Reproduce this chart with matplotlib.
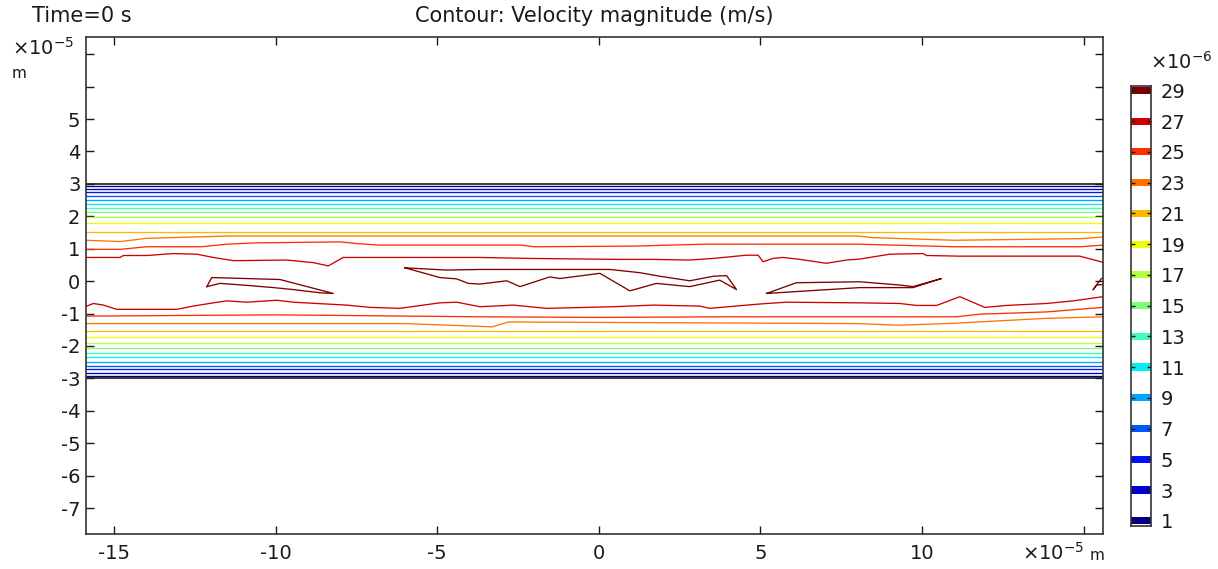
import matplotlib.pyplot as plt
from matplotlib.colors import Normalize

# contour levels (x1e-6 m/s)
levels = [1, 3, 5, 7, 9, 11, 13, 15, 17, 19, 21, 23, 25, 27, 29]

# nearly straight contours (levels 1..21), y in 1e-5 m
outer_levels = [1, 3, 5, 7, 9, 11, 13, 15, 17, 19, 21]
top_y = [2.94, 2.85, 2.74, 2.63, 2.51, 2.39, 2.26, 2.13, 1.97, 1.80, 1.53]
bottom_y = [-2.92, -2.82, -2.71, -2.61, -2.49, -2.35, -2.21, -2.07, -1.91, -1.73, -1.53]

# wavy contours
top23_x = [-15.9, -14.8, -14.0, -11.5, 8.0, 8.5, 11.0, 14.9, 15.6]
top23_y = [1.26, 1.22, 1.32, 1.39, 1.39, 1.34, 1.26, 1.31, 1.36]
bot23_x = [-15.9, -6.0, -3.3, -2.8, 8.0, 9.3, 11.0, 13.8, 15.6]
bot23_y = [-1.31, -1.31, -1.41, -1.26, -1.31, -1.36, -1.30, -1.15, -1.10]

top25_x = [-15.9, -14.8, -14.0, -12.3, -11.5, -10.6, -8.0, -7.5, -6.8, -2.4, -2.0, 1.1, 3.3, 8.0, 11.0, 14.9, 15.6]
top25_y = [0.98, 0.98, 1.06, 1.06, 1.14, 1.18, 1.21, 1.16, 1.11, 1.11, 1.06, 1.08, 1.14, 1.14, 1.06, 1.06, 1.11]
bot25_x = [-15.9, -10.0, -3.7, 0.0, 4.0, 8.0, 11.06, 11.78, 13.85, 15.6]
bot25_y = [-1.08, -1.04, -1.10, -1.12, -1.10, -1.10, -1.10, -1.02, -0.95, -0.81]

top27_x = [-15.9, -14.82, -14.71, -13.99, -13.17, -12.44, -11.93, -11.31, -9.66, -8.84, -8.37, -7.91,
           -3.68, -2.13, 0.65, 1.68, 2.81, 3.54, 4.57, 4.93, 5.08, 5.39, 5.70, 6.22, 7.04, 7.66,
           8.07, 9.0, 10.03, 10.14, 11.17, 14.88, 15.6]
top27_y = [0.73, 0.73, 0.79, 0.79, 0.85, 0.83, 0.73, 0.63, 0.65, 0.57, 0.47, 0.73,
           0.73, 0.70, 0.67, 0.67, 0.65, 0.70, 0.80, 0.80, 0.60, 0.70, 0.73, 0.67, 0.55, 0.65,
           0.68, 0.83, 0.85, 0.79, 0.77, 0.77, 0.58]
bot27_x = [-15.9, -15.64, -15.33, -14.92, -13.06, -12.55, -11.93, -11.52, -10.9, -9.97, -9.46, -7.80,
           -7.08, -6.16, -4.92, -4.40, -3.68, -2.65, -1.62, 0.44, 1.68, 3.12, 3.43, 4.57, 5.19,
           5.81, 8.07, 9.31, 9.83, 10.45, 11.17, 11.94, 12.61, 13.85, 14.67, 15.6]
bot27_y = [-0.79, -0.69, -0.74, -0.87, -0.87, -0.77, -0.67, -0.61, -0.65, -0.59, -0.65, -0.74,
           -0.81, -0.84, -0.67, -0.65, -0.79, -0.74, -0.84, -0.79, -0.74, -0.77, -0.84, -0.74, -0.69,
           -0.65, -0.67, -0.69, -0.75, -0.75, -0.48, -0.81, -0.75, -0.69, -0.61, -0.48]

# closed contours of the top level (29)
loop1_x = [-12.13, -11.98, -9.87, -8.22, -8.63, -9.46, -10.07, -10.9, -11.72, -12.13]
loop1_y = [-0.17, 0.11, 0.05, -0.38, -0.36, -0.26, -0.20, -0.13, -0.07, -0.17]
loop2_x = [-6.0, -4.71, -3.68, 0.34, 1.27, 1.89, 2.81, 3.54, 3.95, 4.26, 3.74, 2.81, 1.78, 0.96,
           0.03, -1.21, -1.52, -2.44, -2.85, -3.68, -4.04, -4.40, -4.92, -6.0]
loop2_y = [0.41, 0.34, 0.36, 0.36, 0.26, 0.15, 0.01, 0.15, 0.17, -0.26, 0.03, -0.17, -0.07, -0.30,
           0.24, 0.08, 0.13, -0.17, 0.01, -0.09, -0.07, 0.07, 0.11, 0.41]
loop3_x = [5.19, 6.11, 8.07, 9.31, 9.72, 10.6, 9.72, 8.07, 5.19]
loop3_y = [-0.38, -0.05, -0.02, -0.12, -0.17, 0.08, -0.20, -0.20, -0.38]
loop4_x = [15.7, 15.55, 15.29, 15.4, 15.7]
loop4_y = [0.12, 0.08, -0.27, -0.12, -0.10]

xmin, xmax = -15.87, 15.6
ymin, ymax = -7.8, 7.53
wall = 3.0

cmap = plt.cm.jet
norm = Normalize(1, 29)
lw = 0.95

fig = plt.figure(figsize=(12.18, 5.69), dpi=100)
ax = fig.add_axes([0.0706, 0.0615, 0.835, 0.8735])

for lv, y in zip(outer_levels, top_y):
    ax.plot([xmin, xmax], [y, y], color=cmap(norm(lv)), lw=lw)
for lv, y in zip(outer_levels, bottom_y):
    ax.plot([xmin, xmax], [y, y], color=cmap(norm(lv)), lw=lw)

ax.plot(top23_x, top23_y, color=cmap(norm(23)), lw=lw)
ax.plot(bot23_x, bot23_y, color=cmap(norm(23)), lw=lw)
ax.plot(top25_x, top25_y, color=cmap(norm(25)), lw=lw)
ax.plot(bot25_x, bot25_y, color=cmap(norm(25)), lw=lw)
ax.plot(top27_x, top27_y, color=cmap(norm(27)), lw=lw)
ax.plot(bot27_x, bot27_y, color=cmap(norm(27)), lw=lw)
for lx, ly in [(loop1_x, loop1_y), (loop2_x, loop2_y), (loop3_x, loop3_y), (loop4_x, loop4_y)]:
    ax.plot(lx, ly, color=cmap(norm(29)), lw=lw)

# channel walls
ax.plot([xmin, xmax], [wall, wall], color='#1a1a1a', lw=1.2)
ax.plot([xmin, xmax], [-wall, -wall], color='#1a1a1a', lw=1.2)

ax.set_xlim(xmin, xmax)
ax.set_ylim(ymin, ymax)
ax.set_xticks([-15, -10, -5, 0, 5, 10, 15])
ax.set_xticklabels(['-15', '-10', '-5', '0', '5', '10', ''])
yt = [-7, -6, -5, -4, -3, -2, -1, 0, 1, 2, 3, 4, 5, 6, 7]
ax.set_yticks(yt)
ax.set_yticklabels([str(v) if v < 6 else '' for v in yt])
ax.tick_params(direction='in', top=True, right=True, length=6, width=1,
               labelsize=14, colors='#1a1a1a')
ax.tick_params(axis='x', pad=7)
ax.tick_params(axis='y', pad=4)
for s in ax.spines.values():
    s.set_color('#333333')
    s.set_linewidth(1.2)

fig.text(32 / 1218, 1 - 16 / 569, 'Time=0 s', fontsize=15, ha='left', va='center', color='#1a1a1a')
fig.text(594.5 / 1218, 1 - 16 / 569, 'Contour: Velocity magnitude (m/s)', fontsize=15,
         ha='center', va='center', color='#1a1a1a')
fig.text(12 / 1218, 1 - 48 / 569, r'$\times10^{-5}$', fontsize=14, ha='left', va='center', color='#1a1a1a')
fig.text(12 / 1218, 1 - 73 / 569, 'm', fontsize=11, ha='left', va='center', color='#1a1a1a')
fig.text(1022 / 1218, 1 - 553 / 569, r'$\times10^{-5}$', fontsize=14, ha='left', va='center', color='#1a1a1a')
fig.text(1090 / 1218, 1 - 555 / 569, 'm', fontsize=11, ha='left', va='center', color='#1a1a1a')

# legend bar
cax = fig.add_axes([1131 / 1218, 43 / 569, 20 / 1218, 440 / 569])
for lv in levels:
    cax.axhspan(lv - 0.23, lv + 0.23, color=cmap(norm(lv)), lw=0)
cax.set_ylim(0.66, 29.28)
cax.set_xlim(0, 1)
cax.set_xticks([])
cax.set_yticks(levels)
cax.set_yticklabels([str(v) for v in levels])
cax.tick_params(axis='y', direction='in', left=True, right=True, labelleft=False, labelright=True,
                length=3, width=1, labelsize=14, pad=7, colors='#1a1a1a')
for s in cax.spines.values():
    s.set_color('#333333')
    s.set_linewidth(1.2)
fig.text(1150 / 1218, 1 - 62 / 569, r'$\times10^{-6}$', fontsize=14, ha='left', va='center', color='#1a1a1a')

fig.savefig('out.png', dpi=100)
